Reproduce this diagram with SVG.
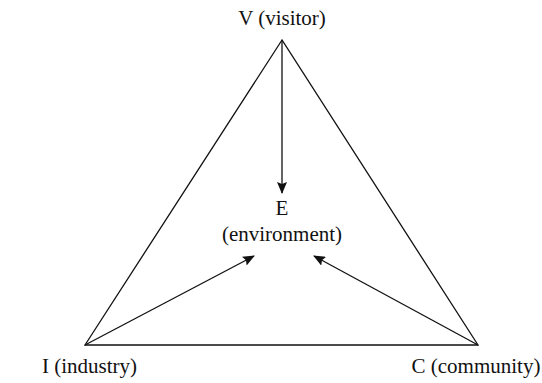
<svg xmlns="http://www.w3.org/2000/svg" width="542" height="383" viewBox="0 0 542 383">
<style>
.edge{stroke:#111;stroke-width:1.3;fill:none}
</style>
<defs>
<marker id="ah" markerWidth="12" markerHeight="10" refX="11" refY="5" orient="auto" markerUnits="userSpaceOnUse">
<path d="M0,0 L12,5 L0,10 L2,5 Z" fill="#111"/>
</marker>
</defs>
<rect width="542" height="383" fill="#fff"/>
<g id="connectors">
<path class="edge" d="M282,40 L85,345 L478,345 Z"/>
<line class="edge" x1="282" y1="40" x2="282" y2="193" marker-end="url(#ah)"/>
<line class="edge" x1="85" y1="345" x2="254" y2="256" marker-end="url(#ah)"/>
<line class="edge" x1="478" y1="345" x2="314" y2="256" marker-end="url(#ah)"/>
</g>
<g font-family="Liberation Serif, DejaVu Serif, serif" font-size="21" fill="#111">
<g id="node-V"><text x="282" y="25" text-anchor="middle">V (visitor)</text></g>
<g id="node-E"><text x="282" y="215" text-anchor="middle">E</text><text x="282" y="241" text-anchor="middle">(environment)</text></g>
<g id="node-I"><text x="42" y="373">I (industry)</text></g>
<g id="node-C"><text x="476" y="373" text-anchor="middle">C (community)</text></g>
</g>
</svg>
